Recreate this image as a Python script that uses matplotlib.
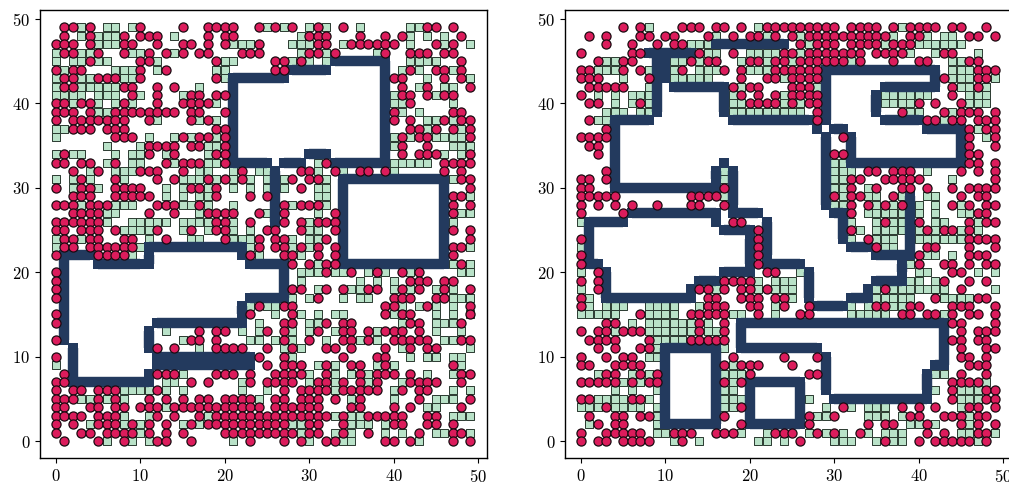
import matplotlib
matplotlib.use("Agg")
import matplotlib.pyplot as plt

plt.rcParams['font.family'] = 'cmr10'
plt.rcParams['axes.formatter.use_mathtext'] = True

L_CIRCLES = {
49:[1,2,4,10,15,18,19,20,21,24,26,28,31,34,44,45,47],
48:[1,4,8,10,11,12,18,20,21,30,31,32,36,39,41,48],
47:[0,1,2,4,8,9,12,15,16,18,20,24,31,32,35,36,37,38,39,40,45,47],
46:[1,2,5,8,11,13,15,17,18,22,23,24,30,31,33,39,42,43,44,46,47],
45:[4,10,11,19,26,27,29,48],
44:[0,2,3,10,13,26,27,42,45,46,48],
43:[1,2,5,6,7,10,19,40,41,46,48],
42:[1,2,8,9,12,14,41,44,49],
41:[9,12,16,17,19,20,41,42,44,46,47],
40:[0,1,3,4,8,12,15,16,17,18,42],
39:[0,1,2,4,7,8,9,10,11,12,13,14,16,17,20,40,47,48],
38:[0,2,3,4,5,6,7,8,11,16,18,40,42,46,48,49],
37:[2,3,4,6,7,8,19,20,42,43,45,47,49],
36:[7,8,9,15,17,18,20,41,43,44,49],
35:[11,12,13,14,16,17,20,41,44],
34:[1,11,14,19,20,41,43,44,45,49],
33:[0,1,3,4,7,13,15,16,17,20,32,46,47,48,49],
32:[2,5,10,11,12,15,22,29,30,33,36,37,39,46,48],
31:[3,7,12,14,18,20,22,28,30,31,48,49],
30:[0,3,4,7,8,9,10,16,17,19,29,49],
29:[2,3,4,7,8,9,10,11,19,23,25,47,48],
28:[0,1,2,4,5,6,12,13,14,17,27,29,30,31,47,49],
27:[2,3,4,5,11,14,18,19,20,21,24,27,33,47],
26:[0,1,2,3,4,5,19,20,23,27,29,31,32,33],
25:[0,1,3,4,5,7,12,16,19,20,25,26,29,33,47,49],
24:[1,2,4,5,8,9,13,20,24,26,27,32,49],
23:[1,2,4,5,6,7,8,9,24,26,27,29,31,33,47,48],
22:[0,5,6,7,8,23,27,28,31,33,47],
21:[28,30,32,33,48],
20:[0,32,35,38,41,43],
19:[0,42,43,44,46,47],
18:[0,28,29,32,34,37,38,41,43,46,49],
17:[0,31,40,41,42,45,46],
16:[24,27,28,39,40,44,49],
15:[0,23,28,39,41,42,49],
14:[0,27,28,32,34,35,42,43,48],
13:[17,19,20,25,27,31,34,35,37,39,40,41,43],
12:[0,16,17,19,27,30,34,35,37,40,41,42,43,44,48,49],
11:[12,14,19,20,21,22,25,28,32,33,35,39,42,44,45],
10:[0,24,27,34,38,39],
9:[25,27,28,29,32,35,36,39,47],
8:[1,12,13,14,19,20,21,23,26,27,28,29,32,36,38,39,40,42,48,49],
7:[0,1,16,18,23,25,26,27,28,31,32,34,36,38,42,43,44,45,48],
6:[0,2,3,5,6,7,12,27,29,30,31,32,34,35,36,37,38,41,43,44],
5:[0,1,2,5,7,11,13,15,17,18,20,21,22,23,26,27,29,30,31,33,36,43,49],
4:[0,1,4,5,7,8,10,11,12,14,15,16,17,18,19,20,21,22,23,24,26,27,28,29,30,31,35,36,40,42,48],
3:[0,1,2,3,5,6,7,12,14,17,19,20,21,22,23,24,25,26,27,28,29,30,31,32,34,37,38,39,40,41,44,45],
2:[0,2,5,6,7,9,11,13,16,18,19,20,21,22,23,24,25,26,27,30,31,34,40,41,44,45,47],
1:[0,3,4,6,7,8,9,11,13,15,20,21,22,23,24,25,26,27,28,30,31,34,37,43,47,48],
0:[1,5,8,12,13,16,23,27,29,32,33,39,40,42,47,49],
}

L_SQUARES = {
49:[3,6,7,9,25,27,30,32,36,42,43],
48:[3,5,6,7,14,29,42,44,46],
47:[5,6,7,21,22,23,28,29,30,34,42,46,49],
46:[0,3,4,9,10,14,29,32,38],
45:[0,2,3,5,6,12,20,21,28,30,32,42,43,44,45],
44:[1,7,8,9,12,19,20,41,43,47],
43:[0,3,4,8,9,20,44,49],
42:[0,3,4,5,6,7,17,43,46,47],
41:[0,1,2,3,5,6,7,10,15,40,45],
40:[2,5,7,9,19,40,41,47],
39:[5,6,41,43],
38:[12,17,19,44,45,47],
37:[0,1,44,48],
36:[0,11,14,16,19,40,42,45,46,47,48],
35:[6,10,18,19,40,47,48,49],
34:[0,2,3,7,9,10,13,18,46,48],
33:[6,9,10,14,18,19,31,40,41,42,43,44],
32:[4,7,8,9,17,18,21,24,25,31,34,40],
31:[0,2,4,8,15,16,17,19,21,23,25,27,32,47],
30:[2,5,13,15,18,21,23,25,27,31,32],
29:[13,15,17,18,31,32,49],
28:[3,7,8,9,15,16,18,21,28,32],
27:[6,7,17,25,31,48,49],
26:[6,9,10,11,12,13,15,16,17,18,21,30,47],
25:[8,9,10,11,15,18,21,23,30,31],
24:[0,3,11,16,17,21,22,23,28,30,31],
23:[0,10,23,28,30,49],
22:[9,24,29],
21:[31,47,49],
20:[29,30,31,33,34,37,39,42,48,49],
19:[29,36,38,40],
18:[31,35,36,40,42,45,47],
17:[28,30,34,36,37,47,48,49],
16:[23,25,26,41,43,45,47],
15:[26,29,31,33,34,40,45,47,49],
14:[24,30,31,41,45,46,47],
13:[13,22,24,28,30,33,38,45,48],
12:[15,23,24,26,28,32,36,38,46,47],
11:[17,27,29,41,49],
10:[28,42,44,45,47,48],
9:[0,31,33,38,40,48],
8:[15,30,33,35,37,44,47],
7:[13,14,22,30,33,37,41],
6:[8,9,10,11,13,15,22,25,33,40,47,49],
5:[3,4,6,8,24,35,40,45,46,47],
4:[13,44,45],
3:[8,11,18,33,35,36,47,48,49],
2:[4,8,10,15,17,28,29,35,36,37,39],
1:[10,29,33,35,39,41,45,46,49],
0:[6,9,11,21,30,34,35,43],
}

L_WALLS = [
(21,43,27,43),(28,44,32,44),(33,45,39,45),(39,45,39,33),(33,33,39,33),(30,34,32,34),
(27,33,29,33),(21,33,25,33),(21,43,21,33),(26,32,26,26),
(1,22,4,22),(1,22,1,12),(2,11,2,7),(2,7,11,7),(11,8,11,8),(12,10,23,10),(12,9,23,9),
(11,13,11,11),(12,14,22,14),(22,16,22,15),(23,17,27,17),(27,21,27,17),(23,21,27,21),
(22,22,22,22),(11,23,22,23),(11,22,11,21),(5,21,10,21),
(34,31,46,31),(34,31,34,21),(46,31,46,21),(34,21,46,21),
]

R_CIRCLES = {
49:[5,7,12,13,14,16,17,19,22,23,24,25,26,27,28,29,30,32,33,34,35,37,39,40,41,42,44,45,48],
48:[1,3,7,8,10,11,15,18,20,21,23,25,27,28,29,30,31,32,33,34,35,36,39,40,46,47,49],
47:[3,6,9,11,12,26,28,29,30,32,33,34,35,37,38,39],
46:[0,6,7,14,18,24,25,27,28,29,30,31,32,33,35,36,37,38,43,44],
45:[2,5,6,13,15,16,20,21,23,24,26,27,28,29,30,31,33,37,40,41,46,47],
44:[0,1,5,7,12,17,19,23,24,25,26,27,28,47,48,49],
43:[0,1,2,8,19,22,23,25,26,27,28,43,47,48],
42:[1,2,3,4,5,18,20,21,25,26,27,44,47],
41:[0,19,21,23,25,26,27,28,44],
40:[1,2,7,20,21,22,23,25,27,28,40,42,45],
39:[28,38,43,45,46,47,49],
38:[1,28,41,42,44,45,47,48,49],
37:[3,46,48,49],
36:[0,1,2,3,31,46,49],
35:[1,2,46,49],
34:[2,30,31,46,47],
33:[46,47,49],
32:[3,34,35,37,38,39,45,47,49],
31:[0,1,3,32,33,36,37,38,39,40,49],
30:[0,1,17,32,35,38,39,41,44,46,47,48,49],
29:[0,1,2,3,4,13,14,15,16,30,32,33,37,45,47,48],
28:[0,2,4,6,9,13,14,17,32,34,36,38,44,46,48,49],
27:[0,5,32,47,48],
26:[18,19,36,40,46,48,49],
25:[21,32,41,43,44,46],
24:[0,21,34,46,47,48,49],
23:[21,35,41,42,46,49],
22:[0,21,40,46,47,48],
21:[0,21,40,43,44,46,48,49],
20:[2,22,23,44,45],
19:[0,2,17,18,19,20,43,46,48],
18:[2,14,15,17,19,20,22,36,45],
17:[0,15,16,19,20,21,23,24,42,47,48],
16:[0,15,16,17,20,21,24,27,35,36,39,40,44,45,46,49],
15:[7,13,14,15,16,17,21,26,27,38,39,41,42,44,46,47,49],
14:[3,4,14,17,44,45,49],
13:[0,2,3,5,6,7,14,17,45,47,48,49],
12:[1,2,3,4,8,13,14,15,16,17,44,45,47,48],
11:[2,4,7,8,45,48,49],
10:[0,3,5,6,18,24,28,45,46,48],
9:[0,1,4,5,6,7,17,19,20,21,25,46,47,48],
8:[3,4,7,9,20,27,28,45,48],
7:[0,1,2,3,4,6,8,9,17,19,44,45,46,47],
6:[44,48,49],
5:[0,1,6,7,44,48,49],
4:[3,19,31,38,40,42,46,47,49],
3:[1,4,5,7,8,17,27,30,39,40,43,44,45,47,48],
2:[2,4,5,19,27,34,36,37,41,45,47,49],
1:[0,3,4,5,6,7,11,12,13,16,17,18,23,24,25,28,30,33,41,43,47,48],
0:[0,2,3,5,6,7,8,12,26,36,40,42,43,44,45,46,48],
}

R_SQUARES = {
49:[8,21,38],
48:[16,22,26,37,41,43,44],
47:[13,14,15,27,36,40,41,42,43,44,45],
46:[15,16,20,21,22,23,26,39,42,47],
45:[3,4,11,12,14,19,22,25,32,44,45],
44:[2,3,4,8,11,14,15,16,20,21,22,44,45,46],
43:[5,11,12,13,14,15,24,44,45,46,49],
42:[8,19,28,45,46,48],
41:[2,4,6,7,8,18,24,36,37,38,39,40,41,46,47,48],
40:[4,6,8,18,19,24,26,36,37,38,39,46,47,48],
39:[3,4,5,7,8,18,19,20,21,22,23,24,25,26,39,40,44],
38:[2,3,43],
37:[47],
36:[48],
33:[30,31],
32:[17,30,31,32,41],
31:[17,30,31,44],
30:[30,31,34],
29:[17,31,34,35,38,41,42],
28:[30,31,35,37,40,42,45],
27:[34,35,36,37,38,40,42,45,46],
26:[0,32,35,37,38,42,43,47],
25:[33,35,36,37,38,40,42,45,47],
24:[32,35,36,37,40,41,42,43,44,45],
23:[0,36,37],
22:[41,42,44],
21:[39],
20:[0,26,40,41,47,49],
19:[21,23,24,25,39,40,42],
18:[0,16,21,23,24,25,35,37,38,39,40,41,42,43,49],
17:[1,25,35,36,37,38,39,43,44,45,46],
16:[1,3,4,5,8,9,10,11,14,23,32,34,37,38],
15:[0,1,2,3,4,8,9,10,11,18,19,23,32,33,34,35,36,43],
14:[6,8,9,10,11,12,13,15],
13:[4,8,9,10,11,12,13,15,16],
12:[9,10,11,12],
11:[9,17],
10:[8,9],
9:[18],
8:[2,6,8,17,18,19,42,43],
7:[5,7,18,48],
6:[4,6,9,17,18,42,45,46,47],
5:[2,3,4,5,8,17,18,19,27,45,46,47],
4:[0,1,2,4,5,6,7,9,17,18,29,32,34,35,36,45],
3:[9,28,29,34,35,36,38,46],
2:[1,9,39,40,42,46],
1:[9,10,19,22,27,29,31,34,36,37,38,45,46,49],
0:[11,14,21,22,24,30,31,32,35,37,38,47],
}

R_WALLS = [
(16,47,24,47),(8,46,13,46),(9,46,9,39),(10,46,10,43),(11,42,17,42),(17,42,17,39),
(18,38,27,38),(4,38,8,38),(4,38,4,30),(4,30,16,30),(16,32,16,31),(17,33,17,33),
(18,32,18,28),(18,27,21,27),(22,26,22,22),(22,21,26,21),(27,20,27,17),(28,16,31,16),
(32,17,34,17),(34,18,34,18),(35,19,38,19),(38,21,38,20),(35,22,39,22),(39,29,39,22),
(32,23,34,23),(31,27,31,24),(30,27,31,27),(29,36,29,28),(29,44,29,38),(28,37,28,37),
(30,37,31,37),(32,36,32,33),(32,33,45,33),(45,37,45,33),(41,37,45,37),(36,38,40,38),
(35,41,35,39),(36,42,42,42),(42,44,42,42),(29,44,42,44),
(6,27,16,27),(16,26,16,26),(1,26,5,26),(1,26,1,21),(1,21,2,21),(3,20,3,17),(3,17,13,17),
(13,18,13,18),(14,19,16,19),(17,20,20,20),(20,24,20,21),(17,25,20,25),
(19,14,43,14),(19,14,19,11),(19,11,28,11),(29,10,29,6),(30,5,41,5),(41,8,41,6),
(42,9,43,9),(43,14,43,9),
(10,11,16,11),(10,2,16,2),(10,11,10,2),(16,11,16,2),
(20,7,26,7),(20,2,26,2),(20,7,20,2),(26,7,26,2),
]

TICKS = [0, 10, 20, 30, 40, 50]
W, H = 1009, 486
fig = plt.figure(figsize=(W / 100, H / 100), dpi=100)


def expand(rows):
    xs, ys = [], []
    for y, cols in rows.items():
        xs += cols
        ys += [y] * len(cols)
    return xs, ys


def panel(left_px, circles, squares, walls):
    ax = fig.add_axes([left_px / W, (H - 458) / H, 447 / W, 448 / H])
    sx, sy = expand(squares)
    ax.scatter(sx, sy, marker='s', s=38, c='#b9e2c8', edgecolors='#2a3a30', linewidths=0.7, zorder=2)
    for x0, y0, x1, y1 in walls:
        ax.plot([x0, x1], [y0, y1], color='#233a5e', lw=7.5, marker='s', ms=7.5, mew=0,
                solid_capstyle='butt', zorder=3)
    cx, cy = expand(circles)
    ax.scatter(cx, cy, marker='o', s=43, c='#dc1c5c', edgecolors='#1a0a10', linewidths=0.9, zorder=4)
    ax.set_xlim(-1.9, 51.07)
    ax.set_ylim(-2.0, 51.07)
    ax.set_xticks(TICKS)
    ax.set_yticks(TICKS)
    ax.tick_params(labelsize=12, length=3.5, width=0.8)
    for s in ax.spines.values():
        s.set_linewidth(1.0)


panel(40, L_CIRCLES, L_SQUARES, L_WALLS)
panel(565, R_CIRCLES, R_SQUARES, R_WALLS)
fig.savefig('out.png', dpi=100)
